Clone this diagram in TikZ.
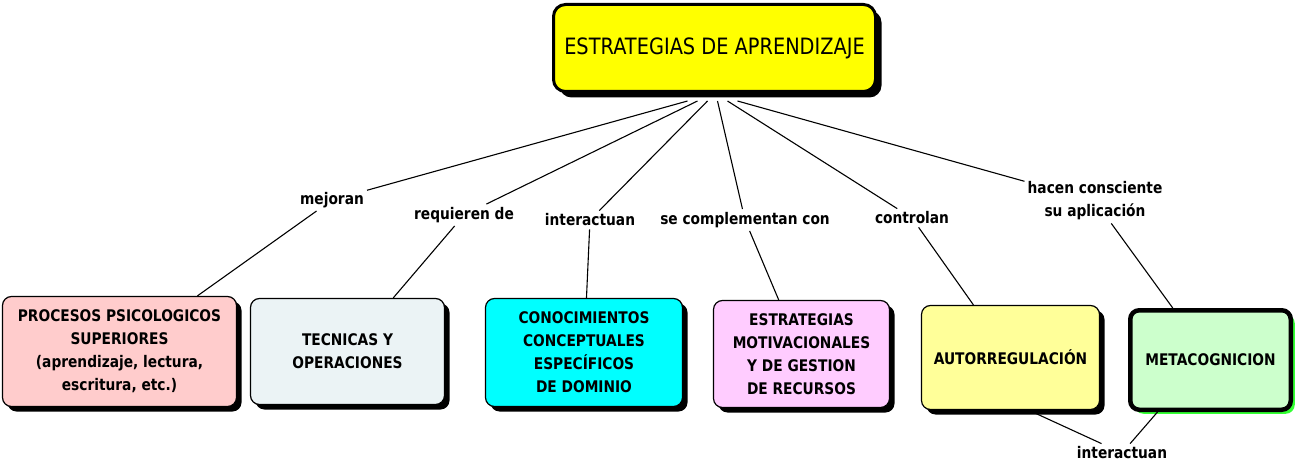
\documentclass[tikz,border=0pt]{standalone}
\usepackage{fontspec}
\setmainfont{DejaVu Sans}[FakeStretch=0.86]
\usetikzlibrary{positioning,shadows}
\definecolor{amarillo}{HTML}{FFFF00}
\definecolor{rosa}{HTML}{FFCCCC}
\definecolor{gris}{HTML}{EBF3F5}
\definecolor{cian}{HTML}{00FFFF}
\definecolor{lila}{HTML}{FFCCFF}
\definecolor{crema}{HTML}{FFFF99}
\definecolor{menta}{HTML}{CCFFCC}
\definecolor{verde}{HTML}{33FF33}

\begin{document}
\begin{tikzpicture}[x=1pt,y=-1pt,
	caja/.style={draw=black, line width=1.2pt, rounded corners=9pt, align=center,
		font=\bfseries\fontsize{16}{23}\selectfont, inner sep=4pt},
	sombra/.style={drop shadow={shadow xshift=#1, shadow yshift=-#1, fill=black, opacity=1}},
	enlace/.style={font=\bfseries\fontsize{16}{23}\selectfont, align=center, inner sep=3pt},
	linea/.style={draw=black, line width=1.1pt}]
	\path[fill=white, use as bounding box] (0,0) rectangle (1300,465);
	%% concepto principal
	\node[caja, sombra=6pt, fill=amarillo, line width=3pt, rounded corners=12pt,
		minimum width=322pt, minimum height=87pt,
		font=\fontsize{22.5}{27}\selectfont] (est) at (714.5,48) {ESTRATEGIAS DE APRENDIZAJE};
	%% conceptos de abajo
	\node[caja, sombra=5pt, fill=rosa, minimum width=234pt, minimum height=110pt] (pro) at (119.5,351.5)
		{PROCESOS PSICOLOGICOS\\SUPERIORES\\(aprendizaje, lectura,\\escritura, etc.)};
	\node[caja, sombra=5pt, fill=gris, minimum width=194pt, minimum height=106pt] (tec) at (347.5,351.5)
		{TECNICAS Y\\OPERACIONES};
	\node[caja, sombra=5pt, fill=cian, minimum width=197pt, minimum height=108pt] (con) at (584,352.5)
		{CONOCIMIENTOS\\CONCEPTUALES\\ESPECÍFICOS\\DE DOMINIO};
	\node[caja, sombra=5pt, fill=lila, minimum width=176pt, minimum height=107pt] (mot) at (801.5,354)
		{ESTRATEGIAS\\MOTIVACIONALES\\Y DE GESTION\\DE RECURSOS};
	\node[caja, sombra=5pt, fill=crema, minimum width=178pt, minimum height=104pt] (aut) at (1010.5,357.5)
		{AUTORREGULACIÓN};
	\node[caja, fill=menta, line width=4.5pt, minimum width=160.5pt, minimum height=99.5pt,
		drop shadow={shadow xshift=4pt, shadow yshift=-4pt, fill=verde, opacity=1}] (met) at (1210.5,360)
		{METACOGNICION};
	%% palabras de enlace
	\node[enlace] (l1) at (332,200) {mejoran};
	\node[enlace] (l2) at (464,215) {requieren de};
	\node[enlace] (l3) at (590,220) {interactuan};
	\node[enlace] (l4) at (745,220) {se complementan con};
	\node[enlace] (l5) at (912,218) {controlan};
	\node[enlace] (l6) at (1095,201) {hacen consciente\\su aplicación};
	\node[enlace] (l7) at (1122,453) {interactuan};
	% lineas desde el concepto principal
	\draw[linea] ([xshift=-27pt,yshift=-8pt]est.south) -- (l1) -- (pro);
	\draw[linea] ([xshift=-17pt,yshift=-8pt]est.south) -- (l2) -- (tec);
	\draw[linea] ([xshift=-7pt,yshift=-8pt]est.south) -- (l3) -- (con);
	\draw[linea] ([xshift=3pt,yshift=-8pt]est.south) -- (l4) -- (mot);
	\draw[linea] ([xshift=13pt,yshift=-8pt]est.south) -- (l5) -- (aut);
	\draw[linea] ([xshift=23pt,yshift=-8pt]est.south) -- (l6) -- (met);
	% abajo
	\draw[linea] ([xshift=18pt]aut.south) -- (l7);
	\draw[linea] ([xshift=-53pt]met.south) -- (l7);
\end{tikzpicture}
\end{document}
